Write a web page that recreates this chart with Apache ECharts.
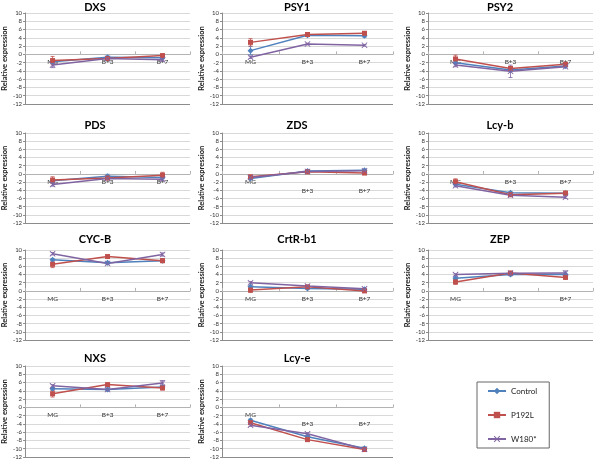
<!DOCTYPE html>
<html><head><meta charset="utf-8">
<script src="https://cdn.jsdelivr.net/npm/echarts@6/dist/echarts.min.js"></script>
<style>html,body{margin:0;padding:0;background:#fff}#c{width:597px;height:460px}</style>
</head><body><div id="c"></div>
<script>
// ---- data ----
const categories = ['MG', 'B+3', 'B+7'];
const seriesNames = ['Control', 'P192L', 'W180*'];
const genes = ['DXS', 'PSY1', 'PSY2', 'PDS', 'ZDS', 'Lcy-b', 'CYC-B', 'CrtR-b1', 'ZEP', 'NXS', 'Lcy-e'];
const yMin = -12, yMax = 10, yStep = 2;

// values per gene (rows in genes order), columns MG, B+3, B+7
const controlValues = [
  [-1.8, -0.7, -0.8], [0.9, 4.6, 4.5], [-2.0, -3.8, -2.8], [-1.7, -0.6, -0.9],
  [-1.1, 0.7, 0.9], [-2.5, -4.6, -4.7], [7.6, 6.9, 7.4], [1.0, 0.6, 0.4],
  [3.1, 4.0, 4.0], [4.5, 4.3, 4.9], [-3.1, -7.1, -9.9]
];
const p192lValues = [
  [-1.5, -1.0, -0.3], [2.9, 4.8, 5.1], [-1.1, -3.4, -2.4], [-1.5, -1.0, -0.3],
  [-0.7, 0.5, 0.2], [-1.9, -5.1, -4.7], [6.5, 8.4, 7.4], [0.2, 1.0, 0.0],
  [2.2, 4.4, 3.3], [3.3, 5.5, 4.7], [-3.7, -7.8, -10.2]
];
const w180Values = [
  [-2.6, -1.0, -1.3], [-0.7, 2.5, 2.2], [-2.6, -4.1, -3.0], [-2.6, -1.1, -1.3],
  [-0.9, 0.6, 0.8], [-2.9, -5.2, -5.7], [9.1, 6.7, 8.9], [2.0, 1.2, 0.5],
  [4.0, 4.3, 4.4], [5.2, 4.3, 5.9], [-4.3, -6.4, -10.1]
];
// error bar half-widths
const controlErr = [
  [0.4, 0.3, 0.3], [1.0, 0.3, 0.4], [0.5, 0.4, 0.3], [0.4, 0.5, 0.3],
  [0.2, 0.2, 0.2], [0.4, 0.3, 0.3], [0.3, 0.3, 0.3], [0.3, 0.2, 0.2],
  [0.3, 0.3, 0.3], [0.3, 0.3, 0.3], [0.3, 0.3, 0.3]
];
const p192lErr = [
  [1.0, 0.3, 0.4], [0.9, 0.3, 0.4], [0.9, 0.3, 0.3], [0.8, 0.4, 0.7],
  [0.2, 0.2, 0.2], [0.7, 0.3, 0.5], [0.8, 0.3, 0.5], [0.6, 0.3, 0.4],
  [0.6, 0.3, 0.4], [0.8, 0.3, 0.5], [0.3, 0.3, 0.3]
];
const w180Err = [
  [0.6, 0.3, 0.3], [0.3, 0.2, 0.2], [0.4, 1.5, 0.3], [0.4, 0.3, 0.3],
  [0.2, 0.2, 0.2], [0.3, 0.3, 0.3], [0.3, 0.3, 0.4], [0.3, 0.2, 0.2],
  [0.2, 0.2, 0.5], [0.3, 0.3, 0.6], [0.3, 0.3, 0.3]
];

// ---- layout / style ----
const colLeft = [21, 222, 428];
const colWidth = [169, 171, 165];
const colTitleX = [95, 297, 500];
const rowTop = [13, 133, 250, 366];
const rowHeight = [91, 90, 90, 91];
const rowTitleY = [7, 125, 239, 358];
const lowLabelGenes = ['ZDS', 'Lcy-e'];
const colors = ['#4F81BD', '#C0504D', '#8064A2'];
const crossPath = 'path://M0,1L1,0L5,4L9,0L10,1L6,5L10,9L9,10L5,6L1,10L0,9L4,5Z';
const symbols = ['diamond', 'rect', crossPath];
const symbolSizes = [6, 5, 6];
const FONT = 'Lato';

const allValues = [controlValues, p192lValues, w180Values];
const allErr = [controlErr, p192lErr, w180Err];

const grids = [], xAxes = [], yAxes = [], titles = [], lineSeries = [], errSeries = [];
const splitColors = [];
for (let v = yMin; v <= yMax; v += yStep) splitColors.push(v === yMin ? '#8c8c8c' : '#d9d9d9');

genes.forEach((g, i) => {
  const r = Math.floor(i / 3), c = i % 3;
  grids.push({left: colLeft[c], top: rowTop[r], width: colWidth[c], height: rowHeight[r], containLabel: false});
  titles.push({
    text: g, left: colTitleX[c], top: rowTitleY[r] - 6, textAlign: 'center', padding: 0,
    textStyle: {fontFamily: FONT, fontSize: 11, fontWeight: 'bold', color: '#000', lineHeight: 12}
  });
  const low = lowLabelGenes.includes(g);
  // place the category axis at value 0 of the value axis
  const zeroOffset = -rowHeight[r] * (0 - yMin) / (yMax - yMin);
  xAxes.push({
    type: 'category', gridIndex: i, data: categories, boundaryGap: true, position: 'bottom',
    offset: zeroOffset,
    axisLine: {onZero: false, lineStyle: {color: '#b3b3b3', width: 1}},
    axisTick: {show: true, inside: true, length: 3, lineStyle: {color: '#b3b3b3'}},
    axisLabel: {
      fontFamily: FONT, fontSize: 6.5, color: '#333', margin: 4,
      formatter: (val, idx) => (low && idx > 0) ? '{d|' + val + '}' : '{n|' + val + '}',
      rich: {
        n: {fontFamily: FONT, fontSize: 6.5, color: '#333'},
        d: {fontFamily: FONT, fontSize: 6.5, color: '#333', padding: [9, 0, 0, 0]}
      }
    },
    splitLine: {show: false}
  });
  yAxes.push({
    type: 'value', gridIndex: i, min: yMin, max: yMax, interval: yStep,
    axisLine: {show: true, lineStyle: {color: '#8c8c8c'}},
    axisTick: {show: true, length: 2, lineStyle: {color: '#8c8c8c'}},
    axisLabel: {fontFamily: FONT, fontSize: 6, color: '#333', margin: 3},
    splitLine: {show: true, lineStyle: {color: splitColors, width: 1}},
    name: 'Relative expression', nameLocation: 'middle', nameRotate: 90, nameGap: 12,
    nameTextStyle: {fontFamily: FONT, fontSize: 7.5, fontWeight: 'bold', color: '#222'}
  });
  for (let s = 0; s < 3; s++) {
    const vals = allValues[s][i], errs = allErr[s][i];
    const col = colors[s];
    lineSeries.push({
      type: 'line', name: seriesNames[s], xAxisIndex: i, yAxisIndex: i, z: 3,
      data: vals, symbol: symbols[s], symbolSize: symbolSizes[s], showSymbol: true,
      lineStyle: {color: col, width: 1.5},
      itemStyle: {color: col},
      animation: false
    });
    errSeries.push({
      type: 'custom', name: seriesNames[s], xAxisIndex: i, yAxisIndex: i, z: 2,
      data: vals.map((v, k) => [k, v - errs[k], v + errs[k]]),
      renderItem: (params, api) => {
        const x = api.value(0);
        const p1 = api.coord([x, api.value(2)]);
        const p2 = api.coord([x, api.value(1)]);
        const w = 2;
        const st = {stroke: col, lineWidth: 0.8};
        return {type: 'group', children: [
          {type: 'line', shape: {x1: p1[0], y1: p1[1], x2: p2[0], y2: p2[1]}, style: st},
          {type: 'line', shape: {x1: p1[0] - w, y1: p1[1], x2: p1[0] + w, y2: p1[1]}, style: st},
          {type: 'line', shape: {x1: p2[0] - w, y1: p2[1], x2: p2[0] + w, y2: p2[1]}, style: st}
        ]};
      },
      silent: true
    });
  }
});

const chart = echarts.init(document.getElementById('c'), null, {renderer: 'canvas'});
chart.setOption({
  animation: false,
  backgroundColor: '#fff',
  color: colors,
  textStyle: {fontFamily: FONT},
  title: titles,
  grid: grids,
  xAxis: xAxes,
  yAxis: yAxes,
  legend: {
    data: seriesNames,
    orient: 'vertical', left: 477, top: 382,
    padding: [5, 12, 5, 10], itemGap: 16, itemWidth: 18, itemHeight: 8,
    borderColor: '#666', borderWidth: 1,
    textStyle: {fontFamily: FONT, fontSize: 8, color: '#222'}
  },
  series: lineSeries.concat(errSeries)
});
</script>
</body></html>
